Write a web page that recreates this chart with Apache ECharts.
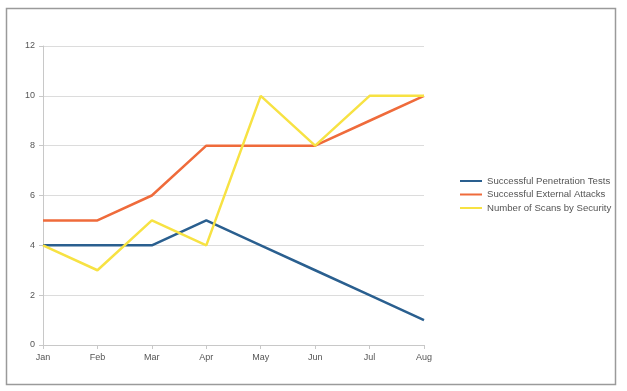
<!DOCTYPE html>
<html>
<head>
<meta charset="utf-8">
<script src="https://cdn.jsdelivr.net/npm/echarts@6/dist/echarts.min.js"></script>
<style>
html,body{margin:0;padding:0;background:#fff;}
#c{width:627px;height:391px;}
</style>
</head>
<body>
<div id="c"></div>
<script>
var categories = ['Jan','Feb','Mar','Apr','May','Jun','Jul','Aug'];
var penetrationTests = [4,4,4,5,4,3,2,1];
var externalAttacks = [5,5,6,8,8,8,9,10];
var scansBySecurity = [4,3,5,4,10,8,10,10];
var seriesNames = ['Successful Penetration Tests','Successful External Attacks','Number of Scans by Security'];
var colors = ['#2a5f8f','#ef6b3b','#f7e243'];

var chart = echarts.init(document.getElementById('c'), null, {renderer:'canvas'});
var font = 'Liberation Sans';
function mk(name, data, color){
  return {name:name,type:'line',data:data,symbol:'none',smooth:false,
    lineStyle:{color:color,width:2.5},itemStyle:{color:color},animation:false};
}
chart.setOption({
  animation:false,
  graphic:[{type:'rect',shape:{x:6.5,y:8.5,width:609,height:376},style:{fill:'none',stroke:'#9a9a9a',lineWidth:1.5},silent:true}],
  grid:{left:43,right:203,top:46,bottom:46,containLabel:false},
  legend:{orient:'vertical',left:455,top:171,itemWidth:22,itemHeight:2,itemGap:3.5,icon:'rect',
    textStyle:{fontFamily:font,fontSize:9.6,color:'#555'},data:seriesNames},
  xAxis:{type:'category',data:categories,boundaryGap:false,
    axisLine:{lineStyle:{color:'#c8c8c8'}},
    axisTick:{show:true,alignWithLabel:true,lineStyle:{color:'#c8c8c8'},length:4},
    axisLabel:{fontFamily:font,fontSize:9,color:'#555',margin:8},
    splitLine:{show:false}},
  yAxis:{type:'value',min:0,max:12,interval:2,
    axisLine:{show:true,lineStyle:{color:'#c8c8c8'}},
    axisTick:{show:true,lineStyle:{color:'#c8c8c8'},length:4},
    axisLabel:{fontFamily:font,fontSize:9,color:'#555',margin:8},
    splitLine:{show:true,lineStyle:{color:'#dcdcdc'}}},
  series:[
    mk(seriesNames[0], penetrationTests, colors[0]),
    mk(seriesNames[1], externalAttacks, colors[1]),
    mk(seriesNames[2], scansBySecurity, colors[2])
  ]
});
</script>
</body>
</html>
